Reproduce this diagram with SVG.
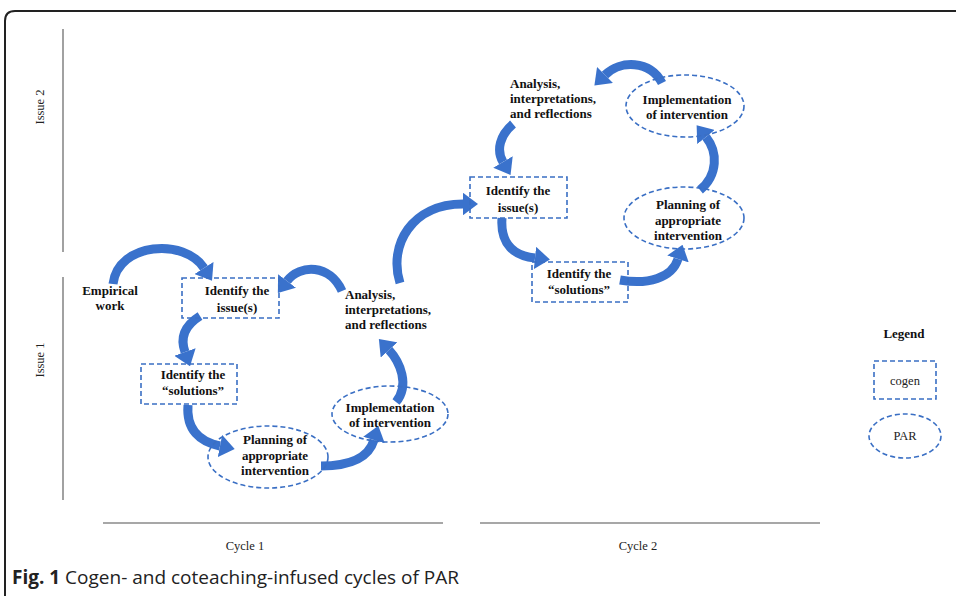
<svg xmlns="http://www.w3.org/2000/svg" width="956" height="596" viewBox="0 0 956 596">
<defs>
<style>
.t{font-family:"Liberation Serif","Times New Roman",serif;font-weight:bold;font-size:13px;fill:#111;}
.n{font-family:"Liberation Serif","Times New Roman",serif;font-size:12.5px;fill:#222;}
.box{fill:none;stroke:#3a6fc4;stroke-width:1.6;stroke-dasharray:5 3;}
.ax{stroke:#8a8a8a;stroke-width:1.6;fill:none;}
.arr{fill:none;stroke:#3a72cc;stroke-width:9;marker-end:url(#head);}
</style>
<marker id="head" viewBox="0 0 16 24" refX="0" refY="12" markerWidth="1.7" markerHeight="2.5" markerUnits="strokeWidth" orient="auto">
<path d="M0,0 L16,12 L0,24 Z" fill="#3a72cc"/>
</marker>
</defs>
<rect width="956" height="596" fill="#fff"/>
<path d="M5,596 L5,21 Q5,11 15,11 L956,11" fill="none" stroke="#222" stroke-width="2"/>

<g id="axes">
<line class="ax" x1="63" y1="29" x2="63" y2="252"/>
<line class="ax" x1="63" y1="277" x2="63" y2="500"/>
<line class="ax" x1="103" y1="523" x2="443" y2="523"/>
<line class="ax" x1="480" y1="523" x2="820" y2="523"/>
<text class="n" transform="translate(44,107) rotate(-90)" text-anchor="middle">Issue 2</text>
<text class="n" transform="translate(44,360) rotate(-90)" text-anchor="middle">Issue 1</text>
<text class="n" x="245" y="550" text-anchor="middle">Cycle 1</text>
<text class="n" x="638" y="550" text-anchor="middle">Cycle 2</text>
</g>

<g id="connectors">
<path class="arr" d="M113,284 C118,242 185,238 204,268"/>
<path class="arr" d="M200,316 C184,326 180,338 185,352"/>
<path class="arr" d="M188,405 C186,430 200,442 220,446"/>
<path class="arr" d="M321,466 C345,466 368,460 374,440"/>
<path class="arr" d="M396,402 C410,385 400,362 389,350"/>
<path class="arr" d="M342,291 C330,264 300,264 287,281"/>
<path class="arr" d="M400,283 C388,245 412,204 463,204"/>
<path class="arr" d="M502,218 C500,245 515,256 535,258"/>
<path class="arr" d="M620,280 C648,285 672,278 678,259"/>
<path class="arr" d="M700,190 C718,175 718,152 706,137"/>
<path class="arr" d="M662,83 C650,60 620,60 605,75"/>
<path class="arr" d="M513,124 C500,135 496,150 503,162"/>
</g>

<g id="empirical">
<text class="t" x="110" y="295" text-anchor="middle">Empirical</text>
<text class="t" x="110" y="310" text-anchor="middle">work</text>
</g>
<g id="c1-issue">
<rect class="box" x="182" y="278" width="97" height="40"/>
<text class="t" x="237" y="295" text-anchor="middle">Identify the</text>
<text class="t" x="237" y="312" text-anchor="middle">issue(s)</text>
</g>
<g id="c1-solutions">
<rect class="box" x="141" y="364" width="96" height="40"/>
<text class="t" x="193" y="379" text-anchor="middle">Identify the</text>
<text class="t" x="193" y="395" text-anchor="middle">“solutions”</text>
</g>
<g id="c1-planning">
<ellipse class="box" cx="268" cy="457" rx="60" ry="31"/>
<text class="t" x="275" y="444" text-anchor="middle">Planning of</text>
<text class="t" x="275" y="460" text-anchor="middle">appropriate</text>
<text class="t" x="275" y="475" text-anchor="middle">intervention</text>
</g>
<g id="c1-implementation">
<ellipse class="box" cx="390" cy="414" rx="58" ry="28"/>
<text class="t" x="390" y="412" text-anchor="middle">Implementation</text>
<text class="t" x="390" y="427" text-anchor="middle">of intervention</text>
</g>
<g id="c1-analysis">
<text class="t" x="345" y="299">Analysis,</text>
<text class="t" x="345" y="314">interpretations,</text>
<text class="t" x="345" y="329">and reflections</text>
</g>

<g id="c2-issue">
<rect class="box" x="470" y="177" width="97" height="41"/>
<text class="t" x="518" y="195" text-anchor="middle">Identify the</text>
<text class="t" x="518" y="212" text-anchor="middle">issue(s)</text>
</g>
<g id="c2-solutions">
<rect class="box" x="532" y="262" width="96" height="40"/>
<text class="t" x="579" y="278" text-anchor="middle">Identify the</text>
<text class="t" x="579" y="294" text-anchor="middle">“solutions”</text>
</g>
<g id="c2-planning">
<ellipse class="box" cx="684" cy="218" rx="60" ry="31"/>
<text class="t" x="688" y="209" text-anchor="middle">Planning of</text>
<text class="t" x="688" y="225" text-anchor="middle">appropriate</text>
<text class="t" x="688" y="240" text-anchor="middle">intervention</text>
</g>
<g id="c2-implementation">
<ellipse class="box" cx="685" cy="106" rx="59" ry="31"/>
<text class="t" x="687" y="104" text-anchor="middle">Implementation</text>
<text class="t" x="687" y="119" text-anchor="middle">of intervention</text>
</g>
<g id="c2-analysis">
<text class="t" x="510" y="88">Analysis,</text>
<text class="t" x="510" y="103">interpretations,</text>
<text class="t" x="510" y="118">and reflections</text>
</g>

<g id="legend">
<text class="t" x="904" y="338" text-anchor="middle">Legend</text>
<rect class="box" x="874" y="361" width="62" height="38"/>
<text class="n" x="905" y="385" text-anchor="middle">cogen</text>
<ellipse class="box" cx="905" cy="436" rx="36" ry="22"/>
<text class="n" x="905" y="440" text-anchor="middle">PAR</text>
</g>

<g id="caption">
<text x="12" y="584" font-family="'Open Sans','Noto Sans',sans-serif" font-size="19" fill="#222"><tspan font-weight="bold">Fig. 1</tspan> Cogen- and coteaching-infused cycles of PAR</text>
</g>
</svg>
